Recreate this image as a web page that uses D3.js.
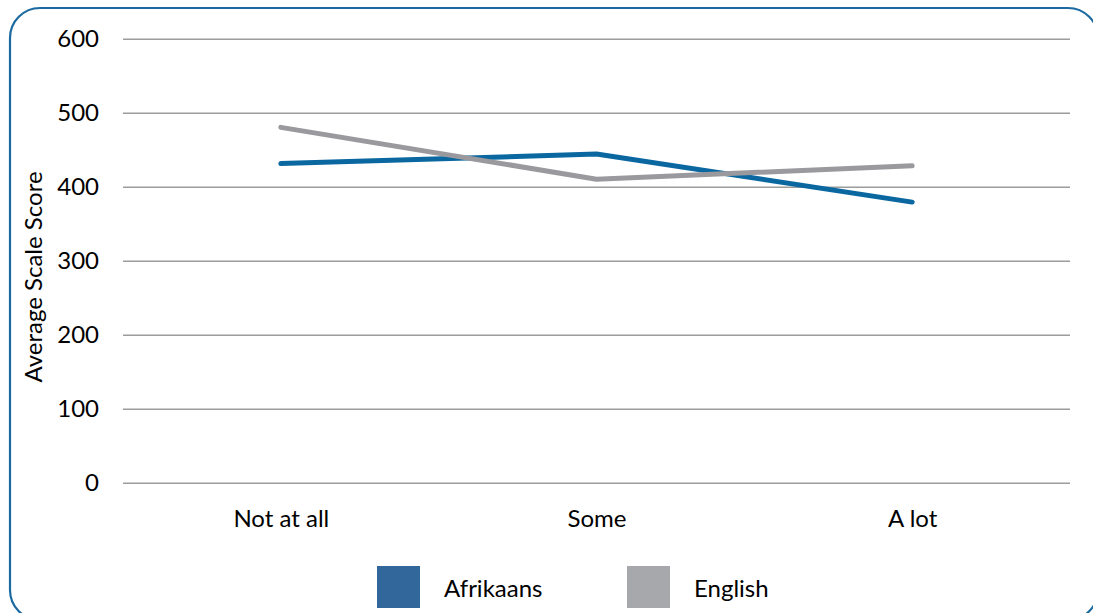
<!DOCTYPE html>
<html>
<head>
<meta charset="utf-8">
<script src="https://cdn.jsdelivr.net/npm/d3@7"></script>
<style>
  html, body { margin: 0; padding: 0; background: #ffffff; }
  svg { display: block; }
  text { font-family: Lato, "Open Sans", sans-serif; fill: #000; }
</style>
</head>
<body>
<svg id="chart" width="1093" height="613"></svg>
<script>
const categories = ["Not at all", "Some", "A lot"];
const afrikaans = [432, 445, 380];
const english = [481, 411, 429];
const yTicks = [0, 100, 200, 300, 400, 500, 600];
const seriesNames = ["Afrikaans", "English"];
const lineColors = ["#0a67a0", "#9a9a9e"];
const legendColors = ["#31679b", "#a7a8ab"];

const svg = d3.select("#chart");
const W = 1093, H = 613;
const FS = 24;
const margin = { left: 123, right: 23, top: 39.3, bottom: 613 - 483.3 };

const x = d3.scalePoint().domain(categories).range([margin.left, W - margin.right]).padding(0.5);
const y = d3.scaleLinear().domain([0, 600]).range([H - margin.bottom, margin.top]);

// outer frame
svg.append("rect")
  .attr("x", 10).attr("y", 8)
  .attr("width", 1088).attr("height", 612)
  .attr("rx", 30).attr("ry", 30)
  .attr("fill", "none")
  .attr("stroke", "#1a6aa0")
  .attr("stroke-width", 2.2);

// gridlines
svg.append("g")
  .selectAll("line")
  .data(yTicks)
  .join("line")
  .attr("x1", margin.left).attr("x2", W - margin.right)
  .attr("y1", d => y(d)).attr("y2", d => y(d))
  .attr("stroke", "#9c9c9c")
  .attr("stroke-width", 1.6);

// y axis labels
const yAxis = d3.axisLeft(y).tickValues(yTicks).tickSize(0).tickPadding(0);
const gy = svg.append("g").attr("transform", `translate(${margin.left - 24},0)`).call(yAxis);
gy.select(".domain").remove();
gy.selectAll("text").attr("font-size", FS).attr("font-family", "Lato, 'Open Sans', sans-serif").attr("fill", "#000");

// x axis labels
const xAxis = d3.axisBottom(x).tickSize(0).tickPadding(0);
const gx = svg.append("g").attr("transform", `translate(0,${y(0) + 26.5})`).call(xAxis);
gx.select(".domain").remove();
gx.selectAll("text").attr("font-size", FS).attr("font-family", "Lato, 'Open Sans', sans-serif").attr("fill", "#000");

// y title
svg.append("text")
  .attr("transform", `translate(42,277) rotate(-90)`)
  .attr("text-anchor", "middle")
  .attr("font-size", FS)
  .text("Average Scale Score");

// lines
const line = d3.line().x((d, i) => x(categories[i])).y(d => y(d));
[afrikaans, english].forEach((s, k) => {
  svg.append("path")
    .datum(s)
    .attr("d", line)
    .attr("fill", "none")
    .attr("stroke", lineColors[k])
    .attr("stroke-width", 5)
    .attr("stroke-linecap", "round")
    .attr("stroke-linejoin", "round");
});

// legend
const legendX = [377, 627];
seriesNames.forEach((name, k) => {
  svg.append("rect")
    .attr("x", legendX[k]).attr("y", 566)
    .attr("width", 43).attr("height", 42)
    .attr("fill", legendColors[k]);
  svg.append("text")
    .attr("x", legendX[k] + 67).attr("y", 597)
    .attr("font-size", FS)
    .text(name);
});
</script>
</body>
</html>
